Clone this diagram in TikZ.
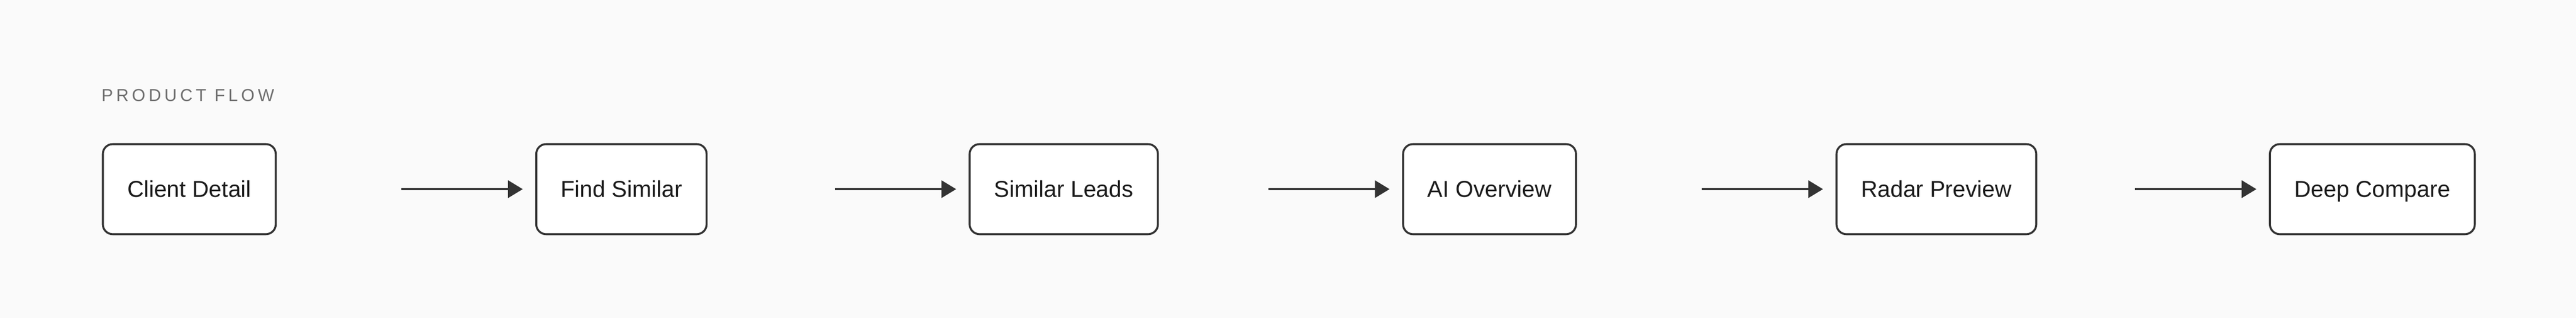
\documentclass[tikz,border=0pt]{standalone}
\usepackage{fontspec}
\setmainfont{Liberation Sans}
\newfontfamily\flowlabelfont[LetterSpace=19]{Liberation Sans}
\usetikzlibrary{arrows.meta, positioning}

\definecolor{pagebg}{HTML}{FAFAFA}
\definecolor{edgegray}{HTML}{333333}
\definecolor{labelgray}{HTML}{6E6E6E}
\definecolor{textdark}{HTML}{1C1C1C}

\tikzset{
  flowbox/.style={draw=edgegray, line width=1.2pt, fill=white, rounded corners=6pt,
    inner xsep=14.9pt, inner ysep=0pt, minimum height=54.8pt,
    text height=10pt, text depth=0pt, text=textdark, font=\fontsize{14pt}{16pt}\selectfont,
    anchor=west},
  flowarrow/.style={draw=edgegray, line width=1.4pt,
    -{Triangle[length=9pt,width=10.5pt]}, shorten >=7.6pt}
}

\begin{document}
\begin{tikzpicture}[x=1pt, y=1pt]

      \fill[pagebg] (0,0) rectangle (1568.2,-193.5);
      \useasboundingbox (0,0) rectangle (1568.2,-193.5);

      \node[anchor=base west, inner sep=0pt, text=labelgray,
        font=\flowlabelfont\fontsize{10.5pt}{12pt}\selectfont] (title) at (61.6,-61.6) {PRODUCT FLOW};

      \node[flowbox] (client)  at (62.0,-115.1)   {Client Detail};
      \node[flowbox] (similar) at (325.85,-115.1) {Find Similar};
      \node[flowbox] (leads)   at (589.7,-115.1)  {Similar Leads};
      \node[flowbox] (overview) at (853.55,-115.1) {AI Overview};
      \node[flowbox] (radar)   at (1117.4,-115.1) {Radar Preview};
      \node[flowbox] (compare) at (1381.25,-115.1) {Deep Compare};

      \coordinate (c1) at ([xshift=182.4pt]client.west);
      \coordinate (c2) at ([xshift=182.4pt]similar.west);
      \coordinate (c3) at ([xshift=182.4pt]leads.west);
      \coordinate (c4) at ([xshift=182.4pt]overview.west);
      \coordinate (c5) at ([xshift=182.4pt]radar.west);

      \draw[flowarrow] (c1) -- (similar);
      \draw[flowarrow] (c2) -- (leads);
      \draw[flowarrow] (c3) -- (overview);
      \draw[flowarrow] (c4) -- (radar);
      \draw[flowarrow] (c5) -- (compare);
    \end{tikzpicture}
\end{document}
